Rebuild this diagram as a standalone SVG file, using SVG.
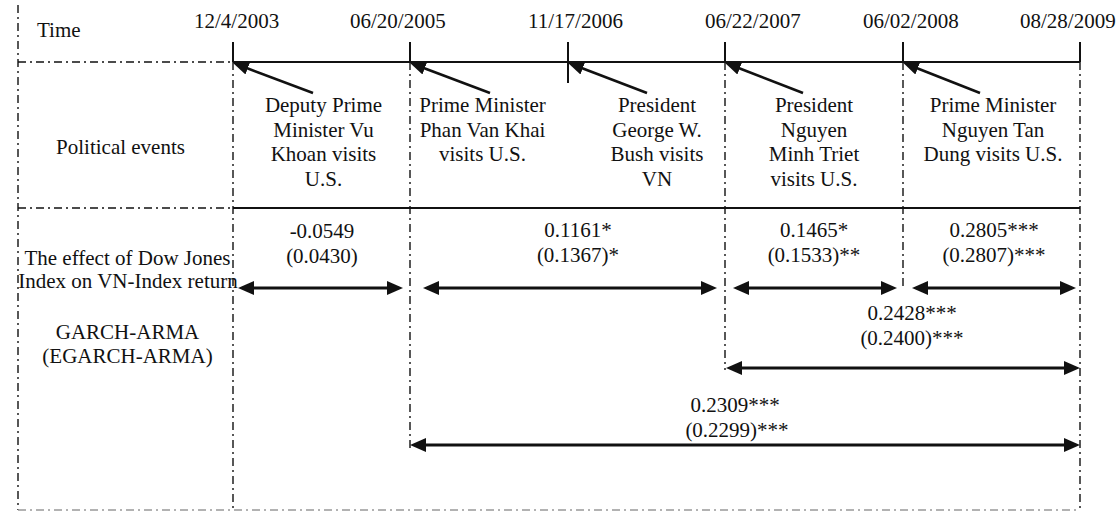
<svg xmlns="http://www.w3.org/2000/svg" width="1118" height="512" viewBox="0 0 1118 512">
<style>
  text { font-family: "Liberation Serif", "Times New Roman", serif; font-size: 21px; fill: #111; }
  .c { text-anchor: middle; }
  .dd { stroke: #111; stroke-width: 1.4; stroke-dasharray: 8 4 2 4; fill: none; }
  .dg { stroke: #999; stroke-width: 1.4; stroke-dasharray: 8 4 2 4; fill: none; }
  .solid { stroke: #111; stroke-width: 1.8; fill: none; }
  .tick { stroke: #111; stroke-width: 2; fill: none; }
  .ptr { stroke: #111; stroke-width: 2.6; fill: none; marker-end: url(#head); }
  .span { stroke: #111; stroke-width: 3; fill: none; marker-start: url(#head2); marker-end: url(#head2); }
</style>
<defs>
  <marker id="head" markerUnits="userSpaceOnUse" markerWidth="17" markerHeight="13" refX="4" refY="6.5" orient="auto">
    <path d="M0,0 L16,6.5 L0,13 z" fill="#111"/>
  </marker>
  <marker id="head2" markerUnits="userSpaceOnUse" markerWidth="17" markerHeight="14" refX="4" refY="7" orient="auto-start-reverse">
    <path d="M0,0 L16,7 L0,14 z" fill="#111"/>
  </marker>
</defs>

<g id="grid">
  <line class="dd" x1="18" y1="5" x2="18" y2="510"/>
  <line class="dg" x1="18" y1="510" x2="1080" y2="510"/>
  <line class="dd" x1="18" y1="62" x2="233" y2="62"/>
  <line class="dd" x1="18" y1="208" x2="233" y2="208"/>
  <line class="solid" x1="233" y1="62" x2="1080" y2="62"/>
  <line class="solid" x1="233" y1="208" x2="1080" y2="208"/>
  <line class="dd" x1="233" y1="62" x2="233" y2="510"/>
  <line class="dd" x1="410" y1="62" x2="410" y2="448"/>
  <line class="dd" x1="725" y1="62" x2="725" y2="370"/>
  <line class="dd" x1="903" y1="62" x2="903" y2="290"/>
  <line class="dd" x1="1080" y1="62" x2="1080" y2="510"/>
  <line class="tick" x1="233" y1="42" x2="233" y2="62"/>
  <line class="tick" x1="410" y1="42" x2="410" y2="62"/>
  <line class="tick" x1="568" y1="42" x2="568" y2="83"/>
  <line class="tick" x1="725" y1="42" x2="725" y2="62"/>
  <line class="tick" x1="903" y1="42" x2="903" y2="62"/>
  <line class="tick" x1="1080" y1="42" x2="1080" y2="62"/>
</g>

<g id="labels">
  <text x="37" y="37">Time</text>
  <text x="120.5" y="154" class="c">Political events</text>
  <text x="127.5" y="265" class="c">The effect of Dow Jones</text>
  <text x="128" y="288" class="c">Index on VN-Index return</text>
  <text x="127.5" y="339" class="c">GARCH-ARMA</text>
  <text x="127.5" y="363" class="c">(EGARCH-ARMA)</text>
</g>

<g id="dates">
  <text x="194" y="28">12/4/2003</text>
  <text x="350" y="28">06/20/2005</text>
  <text x="528" y="28">11/17/2006</text>
  <text x="705" y="28">06/22/2007</text>
  <text x="863" y="28">06/02/2008</text>
  <text x="1020" y="28">08/28/2009</text>
</g>

<g id="event1">
  <text class="c" x="323.5" y="112">Deputy Prime</text>
  <text class="c" x="323.5" y="136.5">Minister Vu</text>
  <text class="c" x="323.5" y="161">Khoan visits</text>
  <text class="c" x="323.5" y="185.5">U.S.</text>
</g>
<g id="event2">
  <text class="c" x="482.5" y="112">Prime Minister</text>
  <text class="c" x="482.5" y="136.5">Phan Van Khai</text>
  <text class="c" x="482.5" y="161">visits U.S.</text>
</g>
<g id="event3">
  <text class="c" x="657" y="112">President</text>
  <text class="c" x="657" y="136.5">George W.</text>
  <text class="c" x="657" y="161">Bush visits</text>
  <text class="c" x="657" y="185.5">VN</text>
</g>
<g id="event4">
  <text class="c" x="814" y="112">President</text>
  <text class="c" x="814" y="136.5">Nguyen</text>
  <text class="c" x="814" y="161">Minh Triet</text>
  <text class="c" x="814" y="185.5">visits U.S.</text>
</g>
<g id="event5">
  <text class="c" x="993" y="112">Prime Minister</text>
  <text class="c" x="993" y="136.5">Nguyen Tan</text>
  <text class="c" x="993" y="161">Dung visits U.S.</text>
</g>

<g id="values">
  <text class="c" x="322" y="238">-0.0549</text>
  <text class="c" x="322" y="263">(0.0430)</text>
  <text class="c" x="578" y="237">0.1161*</text>
  <text class="c" x="578" y="262">(0.1367)*</text>
  <text class="c" x="814" y="237">0.1465*</text>
  <text class="c" x="814" y="262">(0.1533)**</text>
  <text class="c" x="994" y="237">0.2805***</text>
  <text class="c" x="994" y="262">(0.2807)***</text>
  <text class="c" x="912" y="320">0.2428***</text>
  <text class="c" x="912" y="345">(0.2400)***</text>
  <text class="c" x="735" y="412">0.2309***</text>
  <text class="c" x="737" y="437">(0.2299)***</text>
</g>

<g id="connectors">
  <line class="ptr" x1="313" y1="93" x2="244" y2="67"/>
  <line class="ptr" x1="490" y1="93" x2="421" y2="67"/>
  <line class="ptr" x1="647" y1="93" x2="579" y2="67"/>
  <line class="ptr" x1="803" y1="93" x2="736" y2="67"/>
  <line class="ptr" x1="980" y1="93" x2="914" y2="67"/>
  <line class="span" x1="250" y1="288" x2="391" y2="288"/>
  <line class="span" x1="435" y1="288" x2="705" y2="288"/>
  <line class="span" x1="745" y1="288" x2="885" y2="288"/>
  <line class="span" x1="924" y1="288" x2="1064" y2="288"/>
  <line class="span" x1="738" y1="368" x2="1068" y2="368"/>
  <line class="span" x1="422" y1="445" x2="1068" y2="445"/>
</g>
</svg>
